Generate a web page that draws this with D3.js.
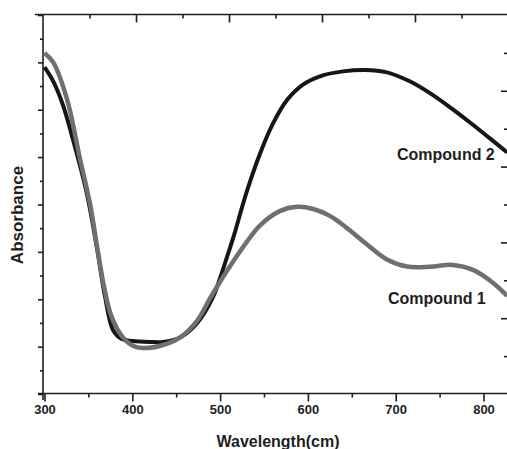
<!DOCTYPE html>
<html>
<head>
<meta charset="utf-8">
<script src="https://cdnjs.cloudflare.com/ajax/libs/d3/7.8.5/d3.min.js"></script>
<style>
	body { margin: 0; background: #fff; }
	#graphicContainer { width: 507px; height: 449px; overflow: hidden; }
	text { font-family: "Liberation Sans", Arial, sans-serif; font-weight: bold; fill: #1e1e1e; }
</style>
</head>
<body>
<div id="graphicContainer"></div>
<script>

// wavelength ticks on the bottom axis
var xTicks = [300, 400, 500, 600, 700, 800]
var xMinorTicks = [350, 450, 550, 650, 750]

// compound 1 (grey): [wavelength, absorbance]
var compound1 = [
	[300, 1.44], [310, 1.40], [326, 1.24], [340, 1.00], [352, 0.80],
	[360, 0.62], [368, 0.45], [376, 0.33], [389, 0.24], [400, 0.205],
	[412, 0.194], [435, 0.207], [454, 0.238], [474, 0.31], [488, 0.40],
	[501, 0.48], [515, 0.56], [530, 0.64], [545, 0.71], [568, 0.772],
	[588, 0.790], [606, 0.781], [625, 0.752], [637, 0.722], [648, 0.690],
	[667, 0.632], [690, 0.568], [713, 0.538], [739, 0.537], [765, 0.545],
	[788, 0.524], [811, 0.469], [827, 0.414]
]

// compound 2 (black)
var compound2 = [
	[300, 1.38], [310, 1.32], [321, 1.22], [332, 1.08], [348, 0.85],
	[360, 0.61], [369, 0.41], [378, 0.27], [388, 0.232], [400, 0.224],
	[420, 0.22], [435, 0.22], [455, 0.24], [474, 0.30], [492, 0.41],
	[500, 0.49], [508, 0.58], [515, 0.66], [530, 0.85], [545, 1.01],
	[560, 1.14], [576, 1.24], [594, 1.305], [617, 1.345], [640, 1.362],
	[665, 1.368], [690, 1.358], [716, 1.32], [739, 1.27], [762, 1.21],
	[785, 1.145], [807, 1.08], [827, 1.02]
]

var seriesLabels = ["Compound 1", "Compound 2"]

function init() {

	var width = 507
	var height = 449

	var svg = d3.select("#graphicContainer").append("svg")
				.attr("width", width)
				.attr("height", height)

	var x = d3.scaleLinear()
		.domain([300, 830])
		.range([44.5, 44.5 + 530 * 0.878])

	var y = d3.scaleLinear()
		.domain([0, 1.6])
		.range([394, 15])

	// the top and right axes have their own spacing in the original
	var xTop = d3.scaleLinear().domain([0, 10]).range([43, 508])
	var yRight = d3.scaleLinear().domain([0, 10]).range([394, 15])

	var axisColor = "#1e1e1e"

	// frame lines
	svg.append("line").attr("x1", 35).attr("x2", width).attr("y1", 14.5).attr("y2", 14.5)
	svg.append("line").attr("x1", 38).attr("x2", width).attr("y1", 393.5).attr("y2", 393.5)
	svg.append("line").attr("x1", 43).attr("x2", 43).attr("y1", 14).attr("y2", 400)
	svg.selectAll("line").attr("stroke", axisColor).attr("stroke-width", 1.6)

	// bottom axis
	svg.append("g")
		.attr("class", "x axis")
		.attr("transform", "translate(0,393.5)")
		.call(d3.axisBottom(x).tickValues(xTicks).tickSize(8).tickPadding(3.5).tickSizeOuter(0))

	svg.append("g")
		.attr("class", "x axis minor")
		.attr("transform", "translate(0,393.5)")
		.call(d3.axisBottom(x).tickValues(xMinorTicks).tickSize(4).tickFormat("").tickSizeOuter(0))

	// left axis, no labels
	svg.append("g")
		.attr("class", "y axis")
		.attr("transform", "translate(43,0)")
		.call(d3.axisLeft(y).tickValues(d3.range(0, 1.61, 0.2)).tickSize(5).tickFormat("").tickSizeOuter(0))

	svg.append("g")
		.attr("class", "y axis minor")
		.attr("transform", "translate(43,0)")
		.call(d3.axisLeft(y).tickValues(d3.range(0.1, 1.6, 0.2)).tickSize(3).tickFormat("").tickSizeOuter(0))

	// top axis ticks pointing in
	svg.append("g")
		.attr("class", "top axis")
		.attr("transform", "translate(0,14.5)")
		.call(d3.axisBottom(xTop).tickValues([2, 4, 6, 8, 10]).tickSize(8).tickFormat("").tickSizeOuter(0))

	svg.append("g")
		.attr("class", "top axis minor")
		.attr("transform", "translate(0,14.5)")
		.call(d3.axisBottom(xTop).tickValues([1, 3, 5, 7, 9]).tickSize(4).tickFormat("").tickSizeOuter(0))

	// right axis sits just outside the crop, ticks point in
	svg.append("g")
		.attr("class", "right axis")
		.attr("transform", "translate(509,0)")
		.call(d3.axisLeft(yRight).tickValues([2, 4, 6, 8]).tickSize(8).tickFormat("").tickSizeOuter(0))

	svg.append("g")
		.attr("class", "right axis minor")
		.attr("transform", "translate(509,0)")
		.call(d3.axisLeft(yRight).tickValues([1, 3, 5, 7, 9]).tickSize(5).tickFormat("").tickSizeOuter(0))

	svg.selectAll(".axis .domain").remove()
	svg.selectAll(".axis line").attr("stroke", axisColor).attr("stroke-width", 1.6)
	svg.selectAll(".x.axis text")
		.style("font-size", "13px")
		.attr("fill", axisColor)

	var line = d3.line()
		.x(d => x(d[0]))
		.y(d => y(d[1]))
		.curve(d3.curveCatmullRom.alpha(0.5))

	svg.append("path")
		.datum(compound2)
		.attr("d", line)
		.attr("fill", "none")
		.attr("stroke", "#161616")
		.attr("stroke-width", 4)
		.attr("stroke-linejoin", "round")

	svg.append("path")
		.datum(compound1)
		.attr("d", line)
		.attr("fill", "none")
		.attr("stroke", "#6f6f6f")
		.attr("stroke-width", 4.5)
		.attr("stroke-linejoin", "round")

	svg.append("text")
		.attr("x", 397)
		.attr("y", 160)
		.style("font-size", "16px")
		.text(seriesLabels[1])

	svg.append("text")
		.attr("x", 388)
		.attr("y", 304)
		.style("font-size", "16px")
		.text(seriesLabels[0])

	svg.append("text")
		.attr("text-anchor", "middle")
		.attr("x", 278)
		.attr("y", 447)
		.style("font-size", "16px")
		.text("Wavelength(cm)")

	svg.append("text")
		.attr("text-anchor", "middle")
		.attr("transform", "translate(23,215) rotate(-90)")
		.style("font-size", "17px")
		.text("Absorbance")

}

init()

</script>
</body>
</html>
